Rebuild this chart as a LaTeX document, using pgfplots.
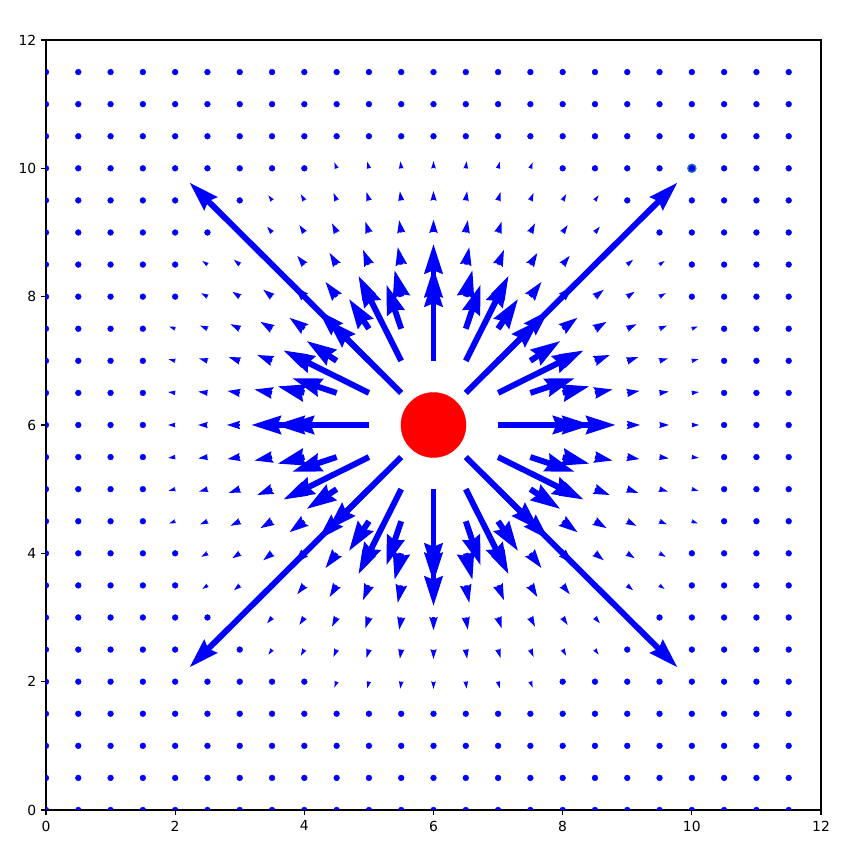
\documentclass[border=0pt]{standalone}
\usepackage{pgfplots}
\pgfplotsset{compat=1.18}
\usepackage{fontspec}
\setmainfont{DejaVu Sans}
\usetikzlibrary{arrows.meta}
\definecolor{tabblue}{HTML}{1F77B4}
\pgfplotstableread{
x y u v s
7 6 1.825 0 1
5 6 -1.825 0 1
6 7 0 1.825 1
6 5 0 -1.825 1
7.5 6 0.811 0 1
4.5 6 -0.811 0 1
6 7.5 0 0.811 1
6 4.5 0 -0.811 1
8 6 0.456 0 1
4 6 -0.456 0 1
6 8 0 0.456 1
6 4 0 -0.456 1
8.5 6 0.292 0 0.64
3.5 6 -0.292 0 0.64
6 8.5 0 0.292 0.64
6 3.5 0 -0.292 0.64
9 6 0.203 0 0.444
3 6 -0.203 0 0.444
6 9 0 0.203 0.444
6 3 0 -0.203 0.444
9.5 6 0.149 0 0.327
2.5 6 -0.149 0 0.327
6 9.5 0 0.149 0.327
6 2.5 0 -0.149 0.327
10 6 0.114 0 0.25
2 6 -0.114 0 0.25
6 10 0 0.114 0.25
6 2 0 -0.114 0.25
6.5 6.5 3.28 3.28 1
5.5 6.5 -3.28 3.28 1
6.5 5.5 3.28 -3.28 1
5.5 5.5 -3.28 -3.28 1
7 6.5 1.306 0.653 1
5 6.5 -1.306 0.653 1
7 5.5 1.306 -0.653 1
5 5.5 -1.306 -0.653 1
6.5 7 0.653 1.306 1
5.5 7 -0.653 1.306 1
6.5 5 0.653 -1.306 1
5.5 5 -0.653 -1.306 1
7.5 6.5 0.692 0.231 1
4.5 6.5 -0.692 0.231 1
7.5 5.5 0.692 -0.231 1
4.5 5.5 -0.692 -0.231 1
6.5 7.5 0.231 0.692 1
5.5 7.5 -0.231 0.692 1
6.5 4.5 0.231 -0.692 1
5.5 4.5 -0.231 -0.692 1
8 6.5 0.417 0.104 0.94
4 6.5 -0.417 0.104 0.94
8 5.5 0.417 -0.104 0.94
4 5.5 -0.417 -0.104 0.94
6.5 8 0.104 0.417 0.94
5.5 8 -0.104 0.417 0.94
6.5 4 0.104 -0.417 0.94
5.5 4 -0.104 -0.417 0.94
8.5 6.5 0.276 0.055 0.615
3.5 6.5 -0.276 0.055 0.615
8.5 5.5 0.276 -0.055 0.615
3.5 5.5 -0.276 -0.055 0.615
6.5 8.5 0.055 0.276 0.615
5.5 8.5 -0.055 0.276 0.615
6.5 3.5 0.055 -0.276 0.615
5.5 3.5 -0.055 -0.276 0.615
9 6.5 0.194 0.032 0.43
3 6.5 -0.194 0.032 0.43
9 5.5 0.194 -0.032 0.43
3 5.5 -0.194 -0.032 0.43
6.5 9 0.032 0.194 0.43
5.5 9 -0.032 0.194 0.43
6.5 3 0.032 -0.194 0.43
5.5 3 -0.032 -0.194 0.43
9.5 6.5 0.144 0.021 0.32
2.5 6.5 -0.144 0.021 0.32
9.5 5.5 0.144 -0.021 0.32
2.5 5.5 -0.144 -0.021 0.32
6.5 9.5 0.021 0.144 0.32
5.5 9.5 -0.021 0.144 0.32
6.5 2.5 0.021 -0.144 0.32
5.5 2.5 -0.021 -0.144 0.32
10 6.5 0.111 0.014 0.246
2 6.5 -0.111 0.014 0.246
10 5.5 0.111 -0.014 0.246
2 5.5 -0.111 -0.014 0.246
6.5 10 0.014 0.111 0.246
5.5 10 -0.014 0.111 0.246
6.5 2 0.014 -0.111 0.246
5.5 2 -0.014 -0.111 0.246
7 7 0.645 0.645 1
5 7 -0.645 0.645 1
7 5 0.645 -0.645 1
5 5 -0.645 -0.645 1
7.5 7 0.467 0.311 1
4.5 7 -0.467 0.311 1
7.5 5 0.467 -0.311 1
4.5 5 -0.467 -0.311 1
7 7.5 0.311 0.467 1
5 7.5 -0.311 0.467 1
7 4.5 0.311 -0.467 1
5 4.5 -0.311 -0.467 1
8 7 0.326 0.163 0.8
4 7 -0.326 0.163 0.8
8 5 0.326 -0.163 0.8
4 5 -0.326 -0.163 0.8
7 8 0.163 0.326 0.8
5 8 -0.163 0.326 0.8
7 4 0.163 -0.326 0.8
5 4 -0.163 -0.326 0.8
8.5 7 0.234 0.093 0.55
3.5 7 -0.234 0.093 0.55
8.5 5 0.234 -0.093 0.55
3.5 5 -0.234 -0.093 0.55
7 8.5 0.093 0.234 0.55
5 8.5 -0.093 0.234 0.55
7 3.5 0.093 -0.234 0.55
5 3.5 -0.093 -0.234 0.55
9 7 0.173 0.058 0.4
3 7 -0.173 0.058 0.4
9 5 0.173 -0.058 0.4
3 5 -0.173 -0.058 0.4
7 9 0.058 0.173 0.4
5 9 -0.058 0.173 0.4
7 3 0.058 -0.173 0.4
5 3 -0.058 -0.173 0.4
9.5 7 0.132 0.038 0.302
2.5 7 -0.132 0.038 0.302
9.5 5 0.132 -0.038 0.302
2.5 5 -0.132 -0.038 0.302
7 9.5 0.038 0.132 0.302
5 9.5 -0.038 0.132 0.302
7 2.5 0.038 -0.132 0.302
5 2.5 -0.038 -0.132 0.302
10 7 0.104 0.026 0.235
2 7 -0.104 0.026 0.235
10 5 0.104 -0.026 0.235
2 5 -0.104 -0.026 0.235
7 10 0.026 0.104 0.235
5 10 -0.026 0.104 0.235
7 2 0.026 -0.104 0.235
5 2 -0.026 -0.104 0.235
7.5 7.5 0.287 0.287 0.89
4.5 7.5 -0.287 0.287 0.89
7.5 4.5 0.287 -0.287 0.89
4.5 4.5 -0.287 -0.287 0.89
8 7.5 0.234 0.175 0.64
4 7.5 -0.234 0.175 0.64
8 4.5 0.234 -0.175 0.64
4 4.5 -0.234 -0.175 0.64
7.5 8 0.175 0.234 0.64
4.5 8 -0.175 0.234 0.64
7.5 4 0.175 -0.234 0.64
4.5 4 -0.175 -0.234 0.64
8.5 7.5 0.184 0.110 0.47
3.5 7.5 -0.184 0.110 0.47
8.5 4.5 0.184 -0.110 0.47
3.5 4.5 -0.184 -0.110 0.47
7.5 8.5 0.110 0.184 0.47
4.5 8.5 -0.110 0.184 0.47
7.5 3.5 0.110 -0.184 0.47
4.5 3.5 -0.110 -0.184 0.47
9 7.5 0.145 0.073 0.356
3 7.5 -0.145 0.073 0.356
9 4.5 0.145 -0.073 0.356
3 4.5 -0.145 -0.073 0.356
7.5 9 0.073 0.145 0.356
4.5 9 -0.073 0.145 0.356
7.5 3 0.073 -0.145 0.356
4.5 3 -0.073 -0.145 0.356
9.5 7.5 0.116 0.050 0.276
2.5 7.5 -0.116 0.050 0.276
9.5 4.5 0.116 -0.050 0.276
2.5 4.5 -0.116 -0.050 0.276
7.5 9.5 0.050 0.116 0.276
4.5 9.5 -0.050 0.116 0.276
7.5 2.5 0.050 -0.116 0.276
4.5 2.5 -0.050 -0.116 0.276
10 7.5 0.094 0.035 0.219
2 7.5 -0.094 0.035 0.219
10 4.5 0.094 -0.035 0.219
2 4.5 -0.094 -0.035 0.219
7.5 10 0.035 0.094 0.219
4.5 10 -0.035 0.094 0.219
7.5 2 0.035 -0.094 0.219
4.5 2 -0.035 -0.094 0.219
8 8 0.161 0.161 0.5
4 8 -0.161 0.161 0.5
8 4 0.161 -0.161 0.5
4 4 -0.161 -0.161 0.5
8.5 8 0.139 0.111 0.39
3.5 8 -0.139 0.111 0.39
8.5 4 0.139 -0.111 0.39
3.5 4 -0.139 -0.111 0.39
8 8.5 0.111 0.139 0.39
4 8.5 -0.111 0.139 0.39
8 3.5 0.111 -0.139 0.39
4 3.5 -0.111 -0.139 0.39
9 8 0.117 0.078 0.308
3 8 -0.117 0.078 0.308
9 4 0.117 -0.078 0.308
3 4 -0.117 -0.078 0.308
8 9 0.078 0.117 0.308
4 9 -0.078 0.117 0.308
8 3 0.078 -0.117 0.308
4 3 -0.078 -0.117 0.308
9.5 8 0.098 0.056 0.246
2.5 8 -0.098 0.056 0.246
9.5 4 0.098 -0.056 0.246
2.5 4 -0.098 -0.056 0.246
8 9.5 0.056 0.098 0.246
4 9.5 -0.056 0.098 0.246
8 2.5 0.056 -0.098 0.246
4 2.5 -0.056 -0.098 0.246
8.5 8.5 0.103 0.103 0.32
3.5 8.5 -0.103 0.103 0.32
8.5 3.5 0.103 -0.103 0.32
3.5 3.5 -0.103 -0.103 0.32
9 8.5 0.092 0.077 0.262
3 8.5 -0.092 0.077 0.262
9 3.5 0.092 -0.077 0.262
3 3.5 -0.092 -0.077 0.262
8.5 9 0.077 0.092 0.262
3.5 9 -0.077 0.092 0.262
8.5 3 0.077 -0.092 0.262
3.5 3 -0.077 -0.092 0.262
9.5 8.5 0.080 0.057 0.216
2.5 8.5 -0.080 0.057 0.216
9.5 3.5 0.080 -0.057 0.216
2.5 3.5 -0.080 -0.057 0.216
8.5 9.5 0.057 0.080 0.216
3.5 9.5 -0.057 0.080 0.216
8.5 2.5 0.057 -0.080 0.216
3.5 2.5 -0.057 -0.080 0.216
9 9 0.072 0.072 0.222
3 9 -0.072 0.072 0.222
9 3 0.072 -0.072 0.222
3 3 -0.072 -0.072 0.222
}\arrows
\begin{document}
\fontsize{13.9pt}{17pt}\selectfont
\begin{tikzpicture}[x=1pt,y=1pt]
\useasboundingbox (0,0) rectangle (868,853);
\begin{axis}[
  at={(46pt,43pt)}, anchor=south west,
  width=775pt, height=770pt, scale only axis,
  xmin=0, xmax=12, ymin=0, ymax=12,
  xtick={0,2,4,6,8,10,12}, ytick={0,2,4,6,8,10,12},
  tick align=outside, tick pos=left,
  major tick length=4.9pt,
  axis line style={line width=1.1pt},
  every tick/.style={black, line width=1.1pt},
  /pgf/number format/assume math mode=true,
  tick label style={font=\fontsize{13.9pt}{17pt}\selectfont},
  xticklabel style={anchor=north, yshift=-1pt},
  point meta min=0, point meta max=1,
  clip mode=individual, clip marker paths=true,
]
\addplot[red, only marks, mark=*, mark size=32.5pt, mark options={fill=red, draw=red, line width=0.4pt}] coordinates {(6,6)};
\addplot[tabblue, only marks, mark=*, mark size=4.5pt, mark options={fill=tabblue, draw=tabblue}] coordinates {(10,10)};
\addplot[blue, only marks, mark=*, mark size=2.9pt, mark options={fill=blue, draw=blue, line width=0.4pt}] coordinates {
(0,0)(0.5,0)(1,0)(1.5,0)(2,0)(2.5,0)(3,0)(3.5,0)(4,0)(4.5,0)(5,0)(5.5,0)(6,0)(6.5,0)(7,0)(7.5,0)(8,0)(8.5,0)(9,0)(9.5,0)(10,0)(10.5,0)(11,0)(11.5,0)
(0,0.5)(0.5,0.5)(1,0.5)(1.5,0.5)(2,0.5)(2.5,0.5)(3,0.5)(3.5,0.5)(4,0.5)(4.5,0.5)(5,0.5)(5.5,0.5)(6,0.5)(6.5,0.5)(7,0.5)(7.5,0.5)(8,0.5)(8.5,0.5)(9,0.5)(9.5,0.5)(10,0.5)(10.5,0.5)(11,0.5)(11.5,0.5)
(0,1)(0.5,1)(1,1)(1.5,1)(2,1)(2.5,1)(3,1)(3.5,1)(4,1)(4.5,1)(5,1)(5.5,1)(6,1)(6.5,1)(7,1)(7.5,1)(8,1)(8.5,1)(9,1)(9.5,1)(10,1)(10.5,1)(11,1)(11.5,1)
(0,1.5)(0.5,1.5)(1,1.5)(1.5,1.5)(2,1.5)(2.5,1.5)(3,1.5)(3.5,1.5)(4,1.5)(4.5,1.5)(5,1.5)(5.5,1.5)(6,1.5)(6.5,1.5)(7,1.5)(7.5,1.5)(8,1.5)(8.5,1.5)(9,1.5)(9.5,1.5)(10,1.5)(10.5,1.5)(11,1.5)(11.5,1.5)
(0,2)(0.5,2)(1,2)(1.5,2)(2,2)(2.5,2)(3,2)(3.5,2)(4,2)(8,2)(8.5,2)(9,2)(9.5,2)(10,2)(10.5,2)(11,2)(11.5,2)
(0,2.5)(0.5,2.5)(1,2.5)(1.5,2.5)(2,2.5)(2.5,2.5)(3,2.5)(9,2.5)(9.5,2.5)(10,2.5)(10.5,2.5)(11,2.5)(11.5,2.5)
(0,3)(0.5,3)(1,3)(1.5,3)(2,3)(2.5,3)(9.5,3)(10,3)(10.5,3)(11,3)(11.5,3)
(0,3.5)(0.5,3.5)(1,3.5)(1.5,3.5)(2,3.5)(10,3.5)(10.5,3.5)(11,3.5)(11.5,3.5)
(0,4)(0.5,4)(1,4)(1.5,4)(2,4)(10,4)(10.5,4)(11,4)(11.5,4)
(0,4.5)(0.5,4.5)(1,4.5)(1.5,4.5)(10.5,4.5)(11,4.5)(11.5,4.5)
(0,5)(0.5,5)(1,5)(1.5,5)(10.5,5)(11,5)(11.5,5)
(0,5.5)(0.5,5.5)(1,5.5)(1.5,5.5)(10.5,5.5)(11,5.5)(11.5,5.5)
(0,6)(0.5,6)(1,6)(1.5,6)(10.5,6)(11,6)(11.5,6)
(0,6.5)(0.5,6.5)(1,6.5)(1.5,6.5)(10.5,6.5)(11,6.5)(11.5,6.5)
(0,7)(0.5,7)(1,7)(1.5,7)(10.5,7)(11,7)(11.5,7)
(0,7.5)(0.5,7.5)(1,7.5)(1.5,7.5)(10.5,7.5)(11,7.5)(11.5,7.5)
(0,8)(0.5,8)(1,8)(1.5,8)(2,8)(10,8)(10.5,8)(11,8)(11.5,8)
(0,8.5)(0.5,8.5)(1,8.5)(1.5,8.5)(2,8.5)(10,8.5)(10.5,8.5)(11,8.5)(11.5,8.5)
(0,9)(0.5,9)(1,9)(1.5,9)(2,9)(2.5,9)(9.5,9)(10,9)(10.5,9)(11,9)(11.5,9)
(0,9.5)(0.5,9.5)(1,9.5)(1.5,9.5)(2,9.5)(2.5,9.5)(3,9.5)(9,9.5)(9.5,9.5)(10,9.5)(10.5,9.5)(11,9.5)(11.5,9.5)
(0,10)(0.5,10)(1,10)(1.5,10)(2,10)(2.5,10)(3,10)(3.5,10)(4,10)(8,10)(8.5,10)(9,10)(9.5,10)(10,10)(10.5,10)(11,10)(11.5,10)
(0,10.5)(0.5,10.5)(1,10.5)(1.5,10.5)(2,10.5)(2.5,10.5)(3,10.5)(3.5,10.5)(4,10.5)(4.5,10.5)(5,10.5)(5.5,10.5)(6,10.5)(6.5,10.5)(7,10.5)(7.5,10.5)(8,10.5)(8.5,10.5)(9,10.5)(9.5,10.5)(10,10.5)(10.5,10.5)(11,10.5)(11.5,10.5)
(0,11)(0.5,11)(1,11)(1.5,11)(2,11)(2.5,11)(3,11)(3.5,11)(4,11)(4.5,11)(5,11)(5.5,11)(6,11)(6.5,11)(7,11)(7.5,11)(8,11)(8.5,11)(9,11)(9.5,11)(10,11)(10.5,11)(11,11)(11.5,11)
(0,11.5)(0.5,11.5)(1,11.5)(1.5,11.5)(2,11.5)(2.5,11.5)(3,11.5)(3.5,11.5)(4,11.5)(4.5,11.5)(5,11.5)(5.5,11.5)(6,11.5)(6.5,11.5)(7,11.5)(7.5,11.5)(8,11.5)(8.5,11.5)(9,11.5)(9.5,11.5)(10,11.5)(10.5,11.5)(11,11.5)(11.5,11.5)
};
\addplot[blue, point meta=\thisrow{s},
  quiver={u=\thisrow{u}, v=\thisrow{v},
    every arrow/.append style={
      line width={5.9pt*\pgfplotspointmetatransformed/1000},
      -{Stealth[length=0pt 5, width=0pt 3, inset=0pt 0.5]}
    }}] table {\arrows};
\end{axis}
\end{tikzpicture}
\end{document}
